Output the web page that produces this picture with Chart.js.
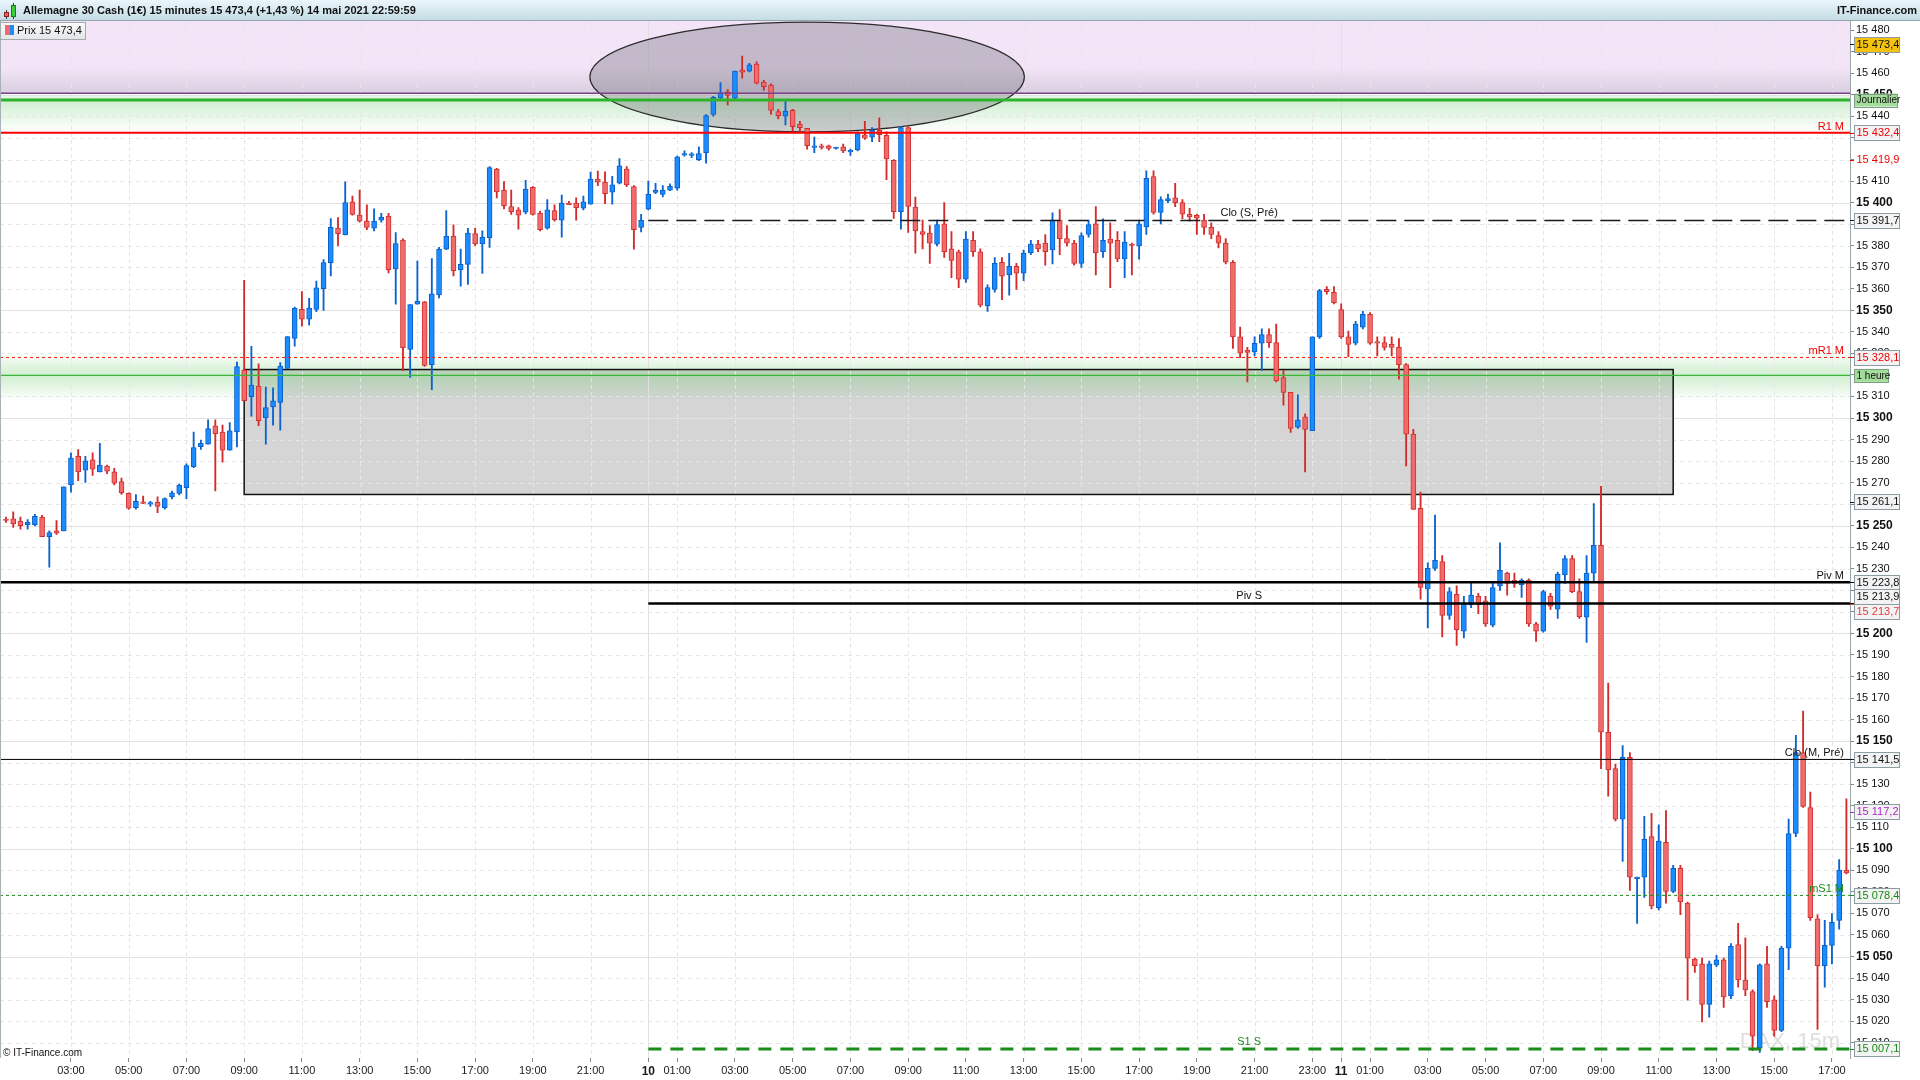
<!DOCTYPE html>
<html>
<head>
<meta charset="utf-8">
<script src="https://cdn.jsdelivr.net/npm/chart.js@4.4.1/dist/chart.umd.min.js"></script>
<style>
  html, body { margin: 0; padding: 0; background: #fff; overflow: hidden; }
  canvas { display: block; }
</style>
</head>
<body>
<canvas id="chart" width="1920" height="1080"></canvas>
<script>
// sessions: day label, first bar time, number of 15 minute bars
var sessions = [["07", "00:45", 89], ["10", "00:00", 96], ["11", "00:00", 71]];

var opens = [
  15253.1, 15253.2, 15252.1, 15250.5, 15250.5, 15254.0, 15244.9, 15247.6, 15247.6, 15268.9,
  15282.2, 15275.8, 15280.6, 15275.0, 15277.7, 15275.0, 15270.5, 15265.0, 15258.4, 15261.1,
  15260.0, 15260.9, 15258.4, 15263.4, 15265.0, 15267.7, 15277.4, 15286.7, 15287.9, 15296.4,
  15293.5, 15285.1, 15293.5, 15322.3, 15309.9, 15314.8, 15300.0, 15305.1, 15307.2, 15323.0,
  15337.0, 15350.4, 15345.9, 15350.4, 15360.0, 15372.1, 15388.2, 15385.0, 15400.3, 15394.2,
  15391.4, 15388.1, 15391.8, 15393.7, 15369.2, 15382.6, 15331.8, 15352.8, 15353.9, 15324.8,
  15357.1, 15378.4, 15384.5, 15368.9, 15371.3, 15385.6, 15380.8, 15383.7, 15415.6, 15405.8,
  15398.2, 15396.6, 15395.5, 15407.1, 15395.0, 15388.1, 15396.3, 15391.8, 15399.8, 15399.8,
  15397.4, 15399.3, 15410.9, 15409.5, 15404.8, 15409.0, 15415.6, 15407.4, 15388.5, 15396.9,
  15404.7, 15403.8, 15405.8, 15406.7, 15422.0, 15421.9, 15419.9, 15423.2, 15440.9, 15448.6,
  15451.4, 15448.5, 15461.5, 15461.0, 15464.3, 15455.9, 15454.6, 15442.2, 15440.1, 15442.8,
  15436.4, 15434.5, 15425.6, 15426.4, 15426.4, 15425.1, 15425.9, 15423.5, 15424.5, 15431.5,
  15430.4, 15433.6, 15431.2, 15419.6, 15395.8, 15434.8, 15397.9, 15386.6, 15385.8, 15380.7,
  15390.1, 15378.5, 15377.2, 15364.5, 15382.5, 15377.2, 15352.2, 15359.7, 15372.3, 15366.4,
  15370.4, 15367.2, 15376.6, 15380.7, 15381.2, 15378.0, 15391.9, 15383.3, 15381.2, 15371.8,
  15385.2, 15390.1, 15377.2, 15383.1, 15382.5, 15373.9, 15380.7, 15379.9, 15388.7, 15412.1,
  15395.4, 15400.8, 15402.2, 15400.0, 15394.6, 15394.1, 15391.9, 15388.5, 15384.7, 15381.2,
  15372.3, 15337.7, 15331.5, 15330.7, 15334.7, 15338.7, 15335.0, 15318.8, 15311.9, 15295.7,
  15300.6, 15294.1, 15337.7, 15359.7, 15358.4, 15350.3, 15337.7, 15334.7, 15342.2, 15348.1,
  15335.5, 15335.0, 15334.2, 15332.8, 15324.8, 15292.5, 15258.1, 15220.7, 15230.2, 15233.4,
  15208.4, 15218.1, 15201.1, 15213.2, 15217.2, 15215.1, 15203.8, 15222.1, 15228.0, 15224.8,
  15222.6, 15224.8, 15204.4, 15201.1, 15217.2, 15211.3, 15227.2, 15234.7, 15219.4, 15207.6,
  15228.0, 15240.9, 15154.1, 15137.2, 15113.8, 15142.5, 15086.1, 15086.9, 15105.7, 15072.7,
  15103.0, 15080.2, 15090.9, 15074.8, 15048.8, 15046.6, 15027.8, 15046.1, 15048.5, 15031.8,
  15055.5, 15039.1, 15033.7, 15007.6, 15046.6, 15029.9, 15015.7, 15053.9, 15107.1, 15144.7,
  15119.2, 15067.5, 15045.8, 15055.2, 15066.8, 15090.1
];
var highs = [
  15254.0, 15256.5, 15254.0, 15252.8, 15255.3, 15254.8, 15247.6, 15252.4, 15268.1, 15283.8,
  15285.4, 15282.2, 15283.8, 15288.2, 15278.2, 15276.6, 15272.1, 15265.3, 15264.5, 15263.7,
  15261.3, 15263.4, 15262.9, 15266.1, 15269.3, 15278.7, 15293.5, 15289.8, 15299.1, 15299.1,
  15296.7, 15297.9, 15326.0, 15363.9, 15333.3, 15325.2, 15314.4, 15314.0, 15325.7, 15337.8,
  15351.5, 15358.7, 15355.5, 15363.6, 15373.6, 15392.6, 15393.1, 15409.6, 15403.0, 15405.8,
  15399.0, 15397.1, 15395.0, 15395.0, 15386.1, 15383.2, 15352.6, 15372.9, 15354.2, 15374.0,
  15379.2, 15396.3, 15389.7, 15378.4, 15388.1, 15388.1, 15386.9, 15416.7, 15415.9, 15409.8,
  15405.8, 15397.7, 15410.3, 15407.4, 15396.1, 15401.4, 15399.0, 15403.5, 15400.6, 15402.2,
  15403.0, 15414.2, 15414.6, 15414.3, 15412.2, 15420.4, 15416.7, 15407.9, 15394.5, 15410.0,
  15409.0, 15407.9, 15408.7, 15421.6, 15424.0, 15423.2, 15425.9, 15440.9, 15449.3, 15455.7,
  15452.5, 15461.0, 15468.0, 15464.7, 15465.4, 15456.7, 15455.1, 15443.3, 15447.0, 15443.3,
  15437.7, 15434.5, 15430.4, 15427.2, 15426.7, 15425.7, 15427.2, 15424.8, 15432.8, 15437.7,
  15434.8, 15439.3, 15432.8, 15420.0, 15435.3, 15435.3, 15402.6, 15391.9, 15389.3, 15391.9,
  15400.0, 15386.6, 15378.0, 15386.6, 15386.6, 15378.5, 15361.8, 15374.5, 15374.5, 15376.4,
  15371.8, 15378.0, 15382.5, 15382.5, 15385.2, 15395.2, 15396.8, 15389.3, 15382.5, 15386.0,
  15391.9, 15398.1, 15392.5, 15390.6, 15386.6, 15386.6, 15381.2, 15391.9, 15414.8, 15414.8,
  15402.7, 15404.0, 15408.9, 15401.4, 15397.3, 15394.6, 15394.6, 15390.6, 15386.6, 15383.3,
  15373.1, 15342.2, 15332.8, 15337.7, 15341.4, 15341.4, 15343.6, 15322.1, 15311.9, 15310.8,
  15301.9, 15337.7, 15359.7, 15361.0, 15361.0, 15353.0, 15340.3, 15344.9, 15349.5, 15348.9,
  15337.7, 15337.7, 15337.7, 15336.9, 15325.3, 15294.7, 15265.6, 15232.8, 15254.9, 15236.1,
  15221.3, 15222.1, 15217.2, 15224.0, 15218.6, 15217.2, 15224.0, 15242.0, 15228.5, 15228.0,
  15225.3, 15225.3, 15205.2, 15220.0, 15218.6, 15228.5, 15236.1, 15236.1, 15225.3, 15236.1,
  15260.3, 15268.3, 15176.9, 15139.3, 15147.9, 15144.7, 15086.9, 15115.1, 15116.5, 15111.1,
  15117.8, 15092.3, 15092.3, 15075.3, 15049.3, 15049.3, 15047.9, 15050.6, 15049.3, 15056.0,
  15065.4, 15058.7, 15034.5, 15046.6, 15054.7, 15031.8, 15054.7, 15113.8, 15152.7, 15164.0,
  15126.4, 15069.4, 15066.8, 15070.0, 15095.0, 15123.2
];
var lows = [
  15251.5, 15249.2, 15248.4, 15248.4, 15249.9, 15244.9, 15230.7, 15246.0, 15247.6, 15265.6,
  15270.9, 15270.1, 15273.4, 15275.0, 15274.2, 15268.9, 15264.5, 15257.6, 15257.7, 15260.2,
  15258.9, 15256.1, 15257.7, 15262.4, 15264.3, 15262.6, 15276.9, 15285.4, 15287.9, 15266.1,
  15279.5, 15285.1, 15286.6, 15308.0, 15300.8, 15296.4, 15287.9, 15296.7, 15294.3, 15323.0,
  15333.3, 15342.6, 15343.1, 15349.4, 15349.9, 15366.0, 15380.0, 15385.0, 15394.2, 15390.9,
  15387.4, 15386.9, 15390.9, 15367.3, 15352.8, 15322.0, 15318.8, 15352.8, 15323.9, 15313.2,
  15355.8, 15378.1, 15366.0, 15361.2, 15362.0, 15380.0, 15367.1, 15379.2, 15402.2, 15397.1,
  15394.5, 15387.7, 15394.7, 15394.2, 15386.9, 15387.7, 15391.4, 15384.0, 15399.0, 15391.8,
  15396.6, 15399.3, 15407.9, 15399.5, 15399.3, 15408.7, 15407.4, 15378.4, 15386.4, 15396.6,
  15404.2, 15402.6, 15405.5, 15405.8, 15421.6, 15420.8, 15419.5, 15418.3, 15440.1, 15447.3,
  15445.4, 15448.1, 15457.8, 15460.7, 15455.1, 15452.2, 15440.9, 15438.8, 15436.1, 15433.2,
  15432.8, 15424.8, 15423.2, 15424.8, 15424.3, 15424.8, 15423.2, 15421.9, 15424.0, 15429.3,
  15428.3, 15428.3, 15410.6, 15392.6, 15387.7, 15386.1, 15376.5, 15378.5, 15371.8, 15379.9,
  15374.5, 15365.1, 15360.5, 15362.9, 15375.0, 15351.6, 15349.5, 15358.4, 15354.9, 15357.0,
  15359.7, 15363.7, 15375.8, 15377.2, 15371.0, 15371.5, 15375.8, 15379.9, 15371.0, 15369.9,
  15383.9, 15366.4, 15374.5, 15360.5, 15372.6, 15365.1, 15366.4, 15373.7, 15385.2, 15394.6,
  15390.1, 15400.0, 15398.1, 15392.5, 15391.4, 15385.2, 15385.2, 15383.3, 15379.0, 15371.5,
  15332.3, 15328.0, 15316.7, 15328.8, 15322.1, 15332.8, 15316.7, 15306.0, 15293.3, 15295.2,
  15275.0, 15294.1, 15336.9, 15357.5, 15353.0, 15336.9, 15328.5, 15333.9, 15341.4, 15334.2,
  15328.8, 15331.5, 15328.8, 15318.0, 15277.7, 15257.6, 15215.9, 15202.5, 15229.3, 15198.4,
  15206.5, 15194.4, 15197.9, 15211.9, 15209.2, 15203.3, 15203.0, 15220.0, 15217.8, 15221.3,
  15216.7, 15203.3, 15196.3, 15200.6, 15211.1, 15207.0, 15223.2, 15218.9, 15207.0, 15195.8,
  15224.0, 15137.2, 15124.5, 15113.0, 15094.2, 15080.7, 15065.4, 15077.5, 15072.1, 15071.6,
  15074.8, 15079.7, 15069.4, 15029.7, 15042.6, 15019.7, 15021.9, 15045.3, 15026.4, 15030.5,
  15035.8, 15031.8, 15006.3, 15005.5, 15026.4, 15013.0, 15015.1, 15043.9, 15105.7, 15119.2,
  15066.8, 15016.2, 15035.8, 15046.6, 15062.7, 15088.3
];
var closes = [
  15252.4, 15250.8, 15250.0, 15251.6, 15254.4, 15244.9, 15246.8, 15246.5, 15268.1, 15281.4,
  15275.0, 15280.1, 15276.3, 15278.2, 15275.3, 15269.7, 15265.3, 15258.1, 15261.3, 15260.3,
  15260.6, 15258.9, 15262.6, 15265.3, 15268.9, 15277.9, 15286.3, 15288.2, 15295.1, 15292.7,
  15285.1, 15294.0, 15323.9, 15308.0, 15315.3, 15298.8, 15304.8, 15308.0, 15324.1, 15337.8,
  15351.0, 15345.9, 15351.0, 15360.4, 15372.1, 15388.5, 15385.6, 15400.0, 15394.5, 15391.4,
  15388.5, 15391.4, 15393.2, 15368.9, 15381.0, 15332.6, 15352.6, 15354.2, 15324.4, 15357.6,
  15378.4, 15384.4, 15368.4, 15371.3, 15385.8, 15380.8, 15384.0, 15416.2, 15405.0, 15398.5,
  15395.8, 15394.2, 15406.3, 15394.5, 15387.4, 15396.6, 15392.1, 15399.8, 15399.0, 15397.7,
  15400.3, 15410.9, 15409.5, 15404.2, 15408.2, 15417.1, 15408.2, 15387.4, 15391.8, 15403.8,
  15405.8, 15405.8, 15407.5, 15421.2, 15422.4, 15422.2, 15422.7, 15440.4, 15448.9, 15450.9,
  15449.8, 15461.0, 15460.5, 15463.9, 15455.4, 15453.8, 15442.8, 15440.4, 15442.5, 15435.3,
  15434.8, 15426.4, 15426.1, 15425.6, 15425.1, 15425.4, 15424.0, 15424.3, 15432.0, 15429.9,
  15433.6, 15431.5, 15420.3, 15395.8, 15434.8, 15398.2, 15386.9, 15385.2, 15381.2, 15389.8,
  15377.2, 15373.1, 15364.5, 15383.1, 15377.2, 15352.4, 15360.5, 15371.8, 15365.9, 15370.4,
  15367.2, 15376.6, 15380.7, 15378.5, 15377.2, 15391.9, 15383.3, 15381.2, 15371.8, 15384.7,
  15389.8, 15376.6, 15382.5, 15381.2, 15373.9, 15381.7, 15380.1, 15390.1, 15411.3, 15395.4,
  15401.4, 15401.9, 15400.0, 15394.6, 15393.3, 15392.8, 15388.5, 15385.2, 15381.2, 15372.3,
  15337.7, 15330.1, 15330.4, 15334.7, 15338.7, 15335.0, 15317.2, 15311.9, 15295.2, 15299.2,
  15294.7, 15337.7, 15359.2, 15358.6, 15353.5, 15337.7, 15334.2, 15343.6, 15348.1, 15334.7,
  15334.7, 15332.8, 15332.8, 15324.8, 15292.5, 15257.6, 15221.3, 15230.2, 15233.9, 15208.4,
  15219.4, 15201.7, 15214.0, 15217.8, 15213.2, 15204.4, 15221.3, 15229.3, 15223.2, 15223.2,
  15224.8, 15204.4, 15201.1, 15219.4, 15212.7, 15227.5, 15234.7, 15219.4, 15207.8, 15228.0,
  15240.9, 15154.1, 15136.6, 15113.8, 15142.5, 15086.9, 15086.9, 15104.4, 15073.5, 15103.6,
  15080.2, 15090.9, 15075.3, 15049.3, 15045.8, 15027.8, 15046.6, 15048.5, 15031.3, 15054.7,
  15039.1, 15034.5, 15013.0, 15046.1, 15029.1, 15015.7, 15053.9, 15107.1, 15144.7, 15119.7,
  15068.1, 15045.8, 15055.2, 15065.9, 15090.1, 15088.8
];

// horizontal levels drawn on the chart
var levelNames  = ["Journalier", "R1 M", "Clo (S, Pré)", "mR1 M", "1 heure", "Piv M", "Piv S", "Clo (M, Pré)", "mS1 M", "S1 S"];
var levelPrices = [15447.6, 15432.4, 15391.7, 15328.1, 15319.8, 15223.8, 15213.9, 15141.5, 15078.4, 15007.1];
var levelFrom   = [0, 0, 89, 0, 0, 0, 89, 0, 0, 89];   // first bar index of each level

// price markers on the right axis
var markerPrices = [15473.4, 15432.4, 15419.9, 15391.7, 15328.1, 15261.1, 15223.8, 15213.9, 15213.7, 15141.5, 15117.2, 15078.4, 15007.1];
var tagNames  = ["Journalier", "1 heure"];
var tagPrices = [15447.6, 15319.8];

// drawings (bar index / price units)
var bandBottom = 15450.8;                 // purple band: top of chart to this price
var zone    = [33, 231, 15264.5, 15322.5]; // from bar, to bar, low, high
var ellipse = [111, 30.1, 15458.3, 25.5];  // centre bar, half width in bars, centre price, half height in points

var F = "'Liberation Sans', Arial, sans-serif";

function pad(n) { return (n < 10 ? "0" : "") + n; }
function groupDigits(s) { return s.replace(/\B(?=(\d{3})+(?!\d))/g, " "); }
function fmtTick(v) { return groupDigits(String(Math.round(v))); }
function fmtPrice(v) { var p = v.toFixed(1).split("."); return groupDigits(p[0]) + "," + p[1]; }

var categories = [];
sessions.forEach(function(s) {
  var start = parseInt(s[1].slice(0, 2), 10) * 60 + parseInt(s[1].slice(3), 10);
  for (var k = 0; k < s[2]; k++) {
    var m = start + k * 15;
    categories.push(s[0] + " " + pad(Math.floor(m / 60)) + ":" + pad(m % 60));
  }
});

function tickText(i) {
  var c = categories[i];
  if (!c) return "";
  var day = c.slice(0, 2), hm = c.slice(3);
  if (hm === "00:00") return day;
  var h = parseInt(hm.slice(0, 2), 10);
  if (hm.slice(3) === "00" && h % 2 === 1 && i > 4) return hm;
  return "";
}
function isDayTick(i) { return categories[i] && categories[i].slice(3) === "00:00"; }

var upFill = "#1a8cff", upLine = "#0b5ec6", upWick = "#0b63cf";
var dnFill = "#f26b6b", dnLine = "#cf3131", dnWick = "#d32a2a";

var isUp = opens.map(function(o, i) { return closes[i] >= o; });

var levelStyle = {
  "Journalier":   { color: "#2fb32f", width: 3,   dash: [],      text: null },
  "R1 M":         { color: "#ff0000", width: 2,   dash: [],      text: "right", tc: "#ee0000" },
  "Clo (S, Pré)": { color: "#1a1a1a", width: 1.5, dash: [20, 8], text: "mid",   tc: "#111" },
  "mR1 M":        { color: "#ff1a1a", width: 1,   dash: [3, 3],  text: "right", tc: "#ee0000" },
  "1 heure":      { color: "#3bb53b", width: 1.2, dash: [],      text: null },
  "Piv M":        { color: "#000",    width: 2.5, dash: [],      text: "right", tc: "#111" },
  "Piv S":        { color: "#000",    width: 2.5, dash: [],      text: "mid",   tc: "#111" },
  "Clo (M, Pré)": { color: "#000",    width: 1,   dash: [],      text: "right", tc: "#111" },
  "mS1 M":        { color: "#178a17", width: 1,   dash: [3, 3],  text: "right", tc: "#178a17" },
  "S1 S":         { color: "#1b8c1b", width: 3,   dash: [13, 9], text: "mid",   tc: "#1b8c1b" }
};

// bg, text colour, box?, vertical shift
var markerStyle = [
  ["#f5c20f", "#111", true, 0],
  ["#f3f3f3", "#ee0000", true, 0],
  [null,      "#ee0000", false, 0],
  ["#f3f3f3", "#111", true, 0],
  ["#f3f3f3", "#ee0000", true, 0],
  ["#f3f3f3", "#111", true, 0],
  ["#f3f3f3", "#111", true, 0],
  ["#f3f3f3", "#111", true, -7],
  ["#f3f3f3", "#e04040", true, 8],
  ["#f3f3f3", "#111", true, 0],
  ["#f3f3f3", "#b21fd0", true, 0],
  ["#f3f3f3", "#178a17", true, 0],
  ["#f3f3f3", "#178a17", true, 0]
];

function glow(c, y, up, down, w) {
  var g = c.createLinearGradient(0, y - up, 0, y + down);
  g.addColorStop(0, "rgba(110,205,110,0)");
  g.addColorStop(up / (up + down), "rgba(110,205,110,0.33)");
  g.addColorStop(1, "rgba(110,205,110,0)");
  c.fillStyle = g;
  c.fillRect(0, y - up, w, up + down);
}

var overlay = {
  id: "overlay",
  beforeDraw: function(chart) {
    var c = chart.ctx;
    c.save();
    c.fillStyle = "#fff";
    c.fillRect(0, 0, chart.width, chart.height);
    c.restore();
  },
  beforeDatasetsDraw: function(chart) {
    var c = chart.ctx, a = chart.chartArea, xs = chart.scales.x, ys = chart.scales.y, R = a.right;
    c.save();
    c.beginPath(); c.rect(0, a.top, R, a.bottom - a.top); c.clip();

    // purple band
    var yb = ys.getPixelForValue(bandBottom);
    c.fillStyle = "#f3e4f8";
    c.fillRect(0, a.top, R, yb - a.top);
    var g = c.createLinearGradient(0, yb - 26, 0, yb);
    g.addColorStop(0, "rgba(160,160,170,0)");
    g.addColorStop(1, "rgba(160,160,170,0.32)");
    c.fillStyle = g;
    c.fillRect(0, yb - 26, R, 26);

    glow(c, ys.getPixelForValue(tagPrices[0]), 7, 32, R);

    // grey zone
    var zx0 = xs.getPixelForValue(zone[0]), zx1 = xs.getPixelForValue(zone[1]);
    var zy0 = ys.getPixelForValue(zone[3]), zy1 = ys.getPixelForValue(zone[2]);
    c.fillStyle = "#d5d5d5";
    c.fillRect(zx0, zy0, zx1 - zx0, zy1 - zy0);
    glow(c, ys.getPixelForValue(tagPrices[1]), 24, 26, R);

    // grid
    c.lineWidth = 1;
    ys.ticks.forEach(function(t) {
      var yy = Math.round(ys.getPixelForValue(t.value)) + 0.5;
      var major = t.value % 50 === 0;
      c.strokeStyle = major ? "#e2e2e2" : "#e6e6e6";
      c.setLineDash(major ? [] : [4, 4]);
      c.beginPath(); c.moveTo(0, yy); c.lineTo(R, yy); c.stroke();
    });
    for (var i = 0; i < categories.length; i++) {
      if (!tickText(i)) continue;
      var xx = Math.round(xs.getPixelForValue(i)) + 0.5;
      c.strokeStyle = isDayTick(i) ? "#e0e0e0" : "#e6e6e6";
      c.setLineDash(isDayTick(i) ? [] : [4, 3]);
      c.beginPath(); c.moveTo(xx, a.top); c.lineTo(xx, a.bottom); c.stroke();
    }
    c.setLineDash([]);

    // zone border above the grid
    c.strokeStyle = "#111"; c.lineWidth = 1.5;
    c.strokeRect(zx0, zy0, zx1 - zx0, zy1 - zy0);

    // ellipse
    var step = xs.getPixelForValue(1) - xs.getPixelForValue(0);
    var ex = xs.getPixelForValue(ellipse[0]), ey = ys.getPixelForValue(ellipse[2]);
    var ery = ys.getPixelForValue(ellipse[2] - ellipse[3]) - ey;
    c.beginPath();
    c.ellipse(ex, ey, ellipse[1] * step, ery, 0, 0, Math.PI * 2);
    c.fillStyle = "rgba(95,95,105,0.32)";
    c.fill();
    c.strokeStyle = "#2a2a2a"; c.lineWidth = 1.2;
    c.stroke();

    // watermark
    c.font = "22px " + F;
    c.fillStyle = "#dedede";
    c.textAlign = "right"; c.textBaseline = "alphabetic";
    c.fillText("DAX, 15m", R - 10, a.bottom - 10);

    c.restore();
  },
  afterDatasetsDraw: function(chart) {
    var c = chart.ctx, a = chart.chartArea, xs = chart.scales.x, ys = chart.scales.y, R = a.right;
    c.save();
    c.beginPath(); c.rect(0, a.top, R, a.bottom - a.top); c.clip();

    // purple band edge
    var yb = ys.getPixelForValue(bandBottom);
    c.strokeStyle = "#7b3f8c"; c.lineWidth = 1.5;
    c.beginPath(); c.moveTo(0, yb); c.lineTo(R, yb); c.stroke();

    c.font = "11px " + F;
    levelNames.forEach(function(name, k) {
      var st = levelStyle[name];
      var y = ys.getPixelForValue(levelPrices[k]);
      var x0 = levelFrom[k] > 0 ? xs.getPixelForValue(levelFrom[k]) : 0;
      c.strokeStyle = st.color; c.lineWidth = st.width; c.setLineDash(st.dash);
      c.beginPath(); c.moveTo(x0, y); c.lineTo(R, y); c.stroke();
      c.setLineDash([]);
      if (st.text) {
        c.fillStyle = st.tc;
        c.textBaseline = "alphabetic";
        if (st.text === "right") {
          c.textAlign = "right";
          c.fillText(name, R - 6, y - 3);
        } else {
          c.textAlign = "center";
          c.fillText(name, (x0 + R) / 2, y - 4);
        }
      }
    });
    c.restore();
  },
  afterDraw: function(chart) {
    var c = chart.ctx, a = chart.chartArea, ys = chart.scales.y, W = chart.width;
    c.save();

    // left border
    c.fillStyle = "#a9b3b7";
    c.fillRect(0, a.top, 1, a.bottom - a.top);

    // header
    var hg = c.createLinearGradient(0, 0, 0, 20);
    hg.addColorStop(0, "#eaf6fb");
    hg.addColorStop(1, "#c6dce5");
    c.fillStyle = hg;
    c.fillRect(0, 0, W, 20);
    c.fillStyle = "#95a5ac";
    c.fillRect(0, 20, W, 1);
    // header icon
    c.fillStyle = "#333"; c.fillRect(6, 10, 1, 9); c.fillRect(13, 3, 1, 16);
    c.fillStyle = "#f06060"; c.fillRect(4, 12, 5, 5);
    c.strokeStyle = "#8a2020"; c.lineWidth = 1; c.strokeRect(4.5, 12.5, 4, 4);
    c.fillStyle = "#3ccc3c"; c.fillRect(11, 5, 5, 12);
    c.strokeStyle = "#1d7a1d"; c.strokeRect(11.5, 5.5, 4, 11);
    c.font = "bold 11px " + F;
    c.fillStyle = "#111"; c.textBaseline = "middle"; c.textAlign = "left";
    c.fillText("Allemagne 30 Cash (1€) 15 minutes 15 473,4 (+1,43 %) 14 mai 2021 22:59:59", 23, 11);
    c.textAlign = "right";
    c.fillText("IT-Finance.com", W - 3, 11);

    // legend box
    var lg = c.createLinearGradient(0, 22, 0, 39);
    lg.addColorStop(0, "#fbfbfb");
    lg.addColorStop(1, "#e4e6e7");
    c.fillStyle = lg;
    c.fillRect(0.5, 22.5, 85, 17);
    c.strokeStyle = "#a3abaf"; c.strokeRect(0.5, 22.5, 85, 17);
    c.fillStyle = "#f46a6a"; c.fillRect(5, 25, 5, 10);
    c.fillStyle = "#1a8cff"; c.fillRect(10, 25, 4, 10);
    c.font = "11px " + F;
    c.fillStyle = "#111"; c.textAlign = "left"; c.textBaseline = "middle";
    c.fillText("Prix 15 473,4", 17, 31);

    // copyright
    c.font = "10px " + F;
    c.fillText("© IT-Finance.com", 3, a.bottom - 5);

    // axis markers
    var bx = a.right + 4.5, bw = 45, bh = 15;
    function box(y, bg, tc, framed, text, font) {
      if (framed) {
        c.fillStyle = bg;
        c.fillRect(bx, y - bh / 2, bw, bh);
        c.strokeStyle = "#8d9ca3"; c.lineWidth = 1;
        c.strokeRect(bx, Math.round(y - bh / 2) + 0.5, bw, bh);
      } else {
        c.fillStyle = "#fff";
        c.fillRect(bx, y - bh / 2 + 1, bw, bh - 2);
      }
      c.font = font || ("11px " + F);
      c.fillStyle = tc; c.textAlign = "left"; c.textBaseline = "middle";
      c.fillText(text, bx + 2, y + 0.5);
    }
    markerPrices.forEach(function(p, k) {
      var s = markerStyle[k];
      var y = ys.getPixelForValue(p);
      c.fillStyle = s[1];
      c.fillRect(a.right, Math.round(y), 4, 1);
      box(y + s[3], s[0], s[1], s[2], fmtPrice(p));
    });
    tagNames.forEach(function(t, k) {
      var y = ys.getPixelForValue(tagPrices[k]);
      var w = k === 0 ? 43 : 34;
      c.fillStyle = "#a4dd9b";
      c.fillRect(bx, y - 6.5, w, 13);
      c.strokeStyle = "#7f9e85"; c.lineWidth = 1;
      c.strokeRect(bx, Math.round(y - 6.5) + 0.5, w, 13);
      c.font = "10px " + F;
      c.fillStyle = "#111"; c.textAlign = "left"; c.textBaseline = "middle";
      c.fillText(t, bx + 2, y + 0.5);
    });
    c.restore();
  }
};

new Chart(document.getElementById("chart"), {
  type: "bar",
  data: {
    labels: categories,
    datasets: [
      {
        label: "wick",
        data: lows.map(function(l, i) { return [l, highs[i]]; }),
        backgroundColor: isUp.map(function(u) { return u ? upWick : dnWick; }),
        borderWidth: 0,
        barThickness: 1.2,
        grouped: false,
        order: 2
      },
      {
        label: "body",
        data: opens.map(function(o, i) { return [o, closes[i]]; }),
        backgroundColor: isUp.map(function(u) { return u ? upFill : dnFill; }),
        borderColor: isUp.map(function(u) { return u ? upLine : dnLine; }),
        borderWidth: 1,
        borderSkipped: false,
        barThickness: 5,
        minBarLength: 1.5,
        grouped: false,
        order: 1
      }
    ]
  },
  options: {
    responsive: false,
    animation: false,
    devicePixelRatio: 1,
    layout: { padding: { left: 2.4, top: 21, right: 0, bottom: 0 } },
    plugins: { legend: { display: false }, tooltip: { enabled: false } },
    scales: {
      x: {
        type: "category",
        afterFit: function(s) { s.height = 22; },
        grid: {
          drawOnChartArea: false, offset: false, tickLength: 4,
          tickColor: function(ctx) { return tickText(ctx.index) ? "#7d898e" : "rgba(0,0,0,0)"; }
        },
        border: { display: false },
        ticks: {
          autoSkip: false, maxRotation: 0, minRotation: 0, padding: 2, color: "#1a1a1a",
          callback: function(v, i) { return tickText(i); },
          font: function(ctx) {
            return isDayTick(ctx.index) ? { family: F, size: 12, weight: "bold" } : { family: F, size: 11 };
          }
        }
      },
      y: {
        position: "right",
        min: 15002.9,
        max: 15484.3,
        afterFit: function(s) { s.width = 70; },
        grid: { drawOnChartArea: false, tickLength: 4, tickColor: "#7d898e" },
        border: { display: true, color: "#9aa5aa" },
        ticks: {
          stepSize: 10, includeBounds: false, autoSkip: false, padding: 2, color: "#111",
          callback: function(v) { return fmtTick(v); },
          font: function(ctx) {
            return ctx.tick && ctx.tick.value % 50 === 0 ? { family: F, size: 12, weight: "bold" } : { family: F, size: 11 };
          }
        }
      }
    }
  },
  plugins: [overlay]
});
</script>
</body>
</html>
